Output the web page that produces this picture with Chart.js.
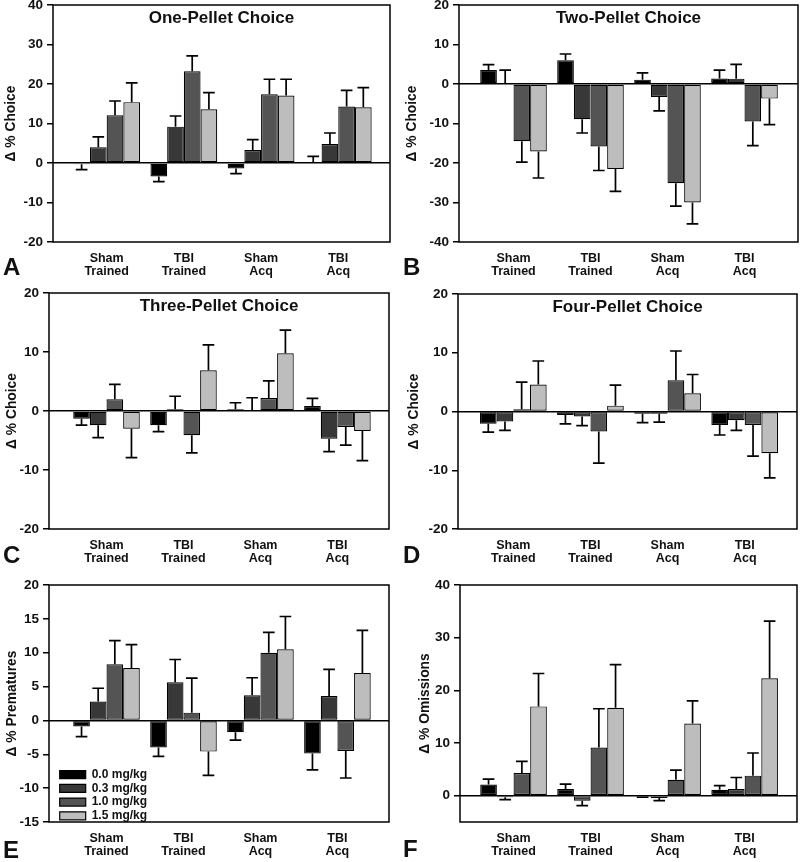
<!DOCTYPE html>
<html>
<head>
<meta charset="utf-8">
<script src="https://cdn.jsdelivr.net/npm/chart.js@4.4.0/dist/chart.umd.min.js"></script>
<style>
  body { margin: 0; background: #fff; }
  #wrap { position: relative; width: 800px; height: 862px; }
  #wrap canvas { position: absolute; }
</style>
</head>
<body>
<div id="wrap">
  <canvas id="panelA" width="400" height="287" style="left:0;top:0"></canvas>
  <canvas id="panelB" width="400" height="287" style="left:400px;top:0"></canvas>
  <canvas id="panelC" width="400" height="287" style="left:0;top:287px"></canvas>
  <canvas id="panelD" width="400" height="287" style="left:400px;top:287px"></canvas>
  <canvas id="panelE" width="400" height="288" style="left:0;top:574px"></canvas>
  <canvas id="panelF" width="400" height="288" style="left:400px;top:574px"></canvas>
</div>
<script>
// groups on the x axis, doses are the datasets
const groupLabels = [['Sham', 'Trained'], ['TBI', 'Trained'], ['Sham', 'Acq'], ['TBI', 'Acq']];
const doseLabels = ['0.0 mg/kg', '0.3 mg/kg', '1.0 mg/kg', '1.5 mg/kg'];
const doseColors = ['#000000', '#383838', '#545454', '#bdbdbd'];

// one row per dose, one value per group
const onePelletMean = [
  [-0.3, -3.4, -1.4, 0.1],
  [4.0, 9.2, 3.3, 4.8],
  [12.1, 23.2, 17.4, 14.3],
  [15.4, 13.6, 17.1, 14.1]
];
const onePelletErr = [
  [1.4, 1.3, 1.3, 1.6],
  [2.6, 2.7, 2.6, 2.8],
  [3.6, 3.9, 3.8, 4.1],
  [4.9, 4.2, 4.1, 5.0]
];
const twoPelletMean = [
  [3.55, 6.0, 1.1, 1.4],
  [0.2, -8.9, -3.3, 1.35],
  [-14.5, -15.8, -25.1, -9.5],
  [-17.1, -21.5, -30.0, -3.7]
];
const twoPelletErr = [
  [1.35, 1.6, 1.7, 2.1],
  [3.3, 3.5, 3.5, 3.6],
  [5.3, 6.1, 5.8, 6.1],
  [6.7, 5.7, 5.4, 6.6]
];
const threePelletMean = [
  [-1.3, -2.4, 0.3, 0.85],
  [-2.4, 0.3, 0.05, -4.7],
  [2.0, -4.1, 2.2, -2.7],
  [-3.0, 6.9, 9.8, -3.4]
];
const threePelletErr = [
  [1.1, 1.1, 1.1, 1.3],
  [2.1, 2.2, 2.2, 2.2],
  [2.5, 3.0, 2.9, 3.1],
  [4.9, 4.3, 3.9, 5.0]
];
const fourPelletMean = [
  [-2.1, -0.6, -0.4, -2.3],
  [-1.7, -0.85, -0.4, -1.5],
  [0.4, -3.4, 5.3, -2.3],
  [4.6, 1.0, 3.1, -7.1]
];
const fourPelletErr = [
  [1.4, 1.5, 1.5, 1.7],
  [1.5, 1.55, 1.4, 1.7],
  [4.6, 5.4, 5.0, 5.3],
  [4.0, 3.5, 3.2, 4.2]
];
const prematuresMean = [
  [-0.9, -4.0, -1.75, -4.9],
  [2.8, 5.65, 3.7, 3.6],
  [8.3, 1.15, 10.0, -4.5],
  [7.75, -4.6, 10.5, 7.0]
];
const prematuresErr = [
  [1.5, 1.3, 1.15, 2.4],
  [1.95, 3.35, 2.6, 3.95],
  [3.5, 5.1, 3.0, 4.0],
  [3.45, 3.5, 4.85, 6.3]
];
const omissionsMean = [
  [2.1, 1.25, -0.2, 1.1],
  [-0.3, -0.95, -0.45, 1.25],
  [4.3, 9.15, 3.0, 3.8],
  [16.95, 16.7, 13.7, 22.3]
];
const omissionsErr = [
  [1.05, 0.95, 0.1, 0.8],
  [0.45, 0.95, 0.5, 2.2],
  [2.2, 7.35, 1.85, 4.3],
  [6.25, 8.2, 4.3, 10.85]
];

// y tick labels
const ticksOne = [-20, -10, 0, 10, 20, 30, 40];
const ticksTwo = [-40, -30, -20, -10, 0, 10, 20];
const ticksThreeFour = [-20, -10, 0, 10, 20];
const ticksPrematures = [-15, -10, -5, 0, 5, 10, 15, 20];
const ticksOmissions = [0, 10, 20, 30, 40];

const family = "'Liberation Sans', Arial, Helvetica, sans-serif";
const ink = '#111';

// frame, error bars, title and panel letter
const panelDeco = {
  id: 'panelDeco',
  afterLayout(chart) {
    const lg = chart.legend;
    if (lg && lg.options.display) {
      const a = chart.chartArea;
      lg.left = a.left + 9;
      lg.right = lg.left + lg.width;
      lg.top = a.top;
      lg.bottom = a.bottom + 1.5;
    }
  },
  afterDatasetsDraw(chart) {
    const ctx = chart.ctx;
    const yScale = chart.scales.y;
    ctx.save();
    ctx.strokeStyle = '#000';
    ctx.lineWidth = 1.7;
    chart.data.datasets.forEach((ds, i) => {
      const meta = chart.getDatasetMeta(i);
      meta.data.forEach((bar, j) => {
        const v = ds.data[j].y;
        const e = ds.errors[j];
        const dir = v < 0 ? -1 : 1;
        const y0 = yScale.getPixelForValue(v);
        const y1 = yScale.getPixelForValue(v + dir * e);
        const half = bar.width * 0.35;
        ctx.beginPath();
        ctx.moveTo(bar.x, y0);
        ctx.lineTo(bar.x, y1);
        ctx.moveTo(bar.x - half, y1);
        ctx.lineTo(bar.x + half, y1);
        ctx.stroke();
      });
    });
    ctx.restore();
  },
  afterDraw(chart, args, opts) {
    const ctx = chart.ctx;
    const a = chart.chartArea;
    ctx.save();
    ctx.strokeStyle = '#000';
    ctx.lineWidth = 1.5;
    ctx.strokeRect(a.left, a.top, a.right - a.left, a.bottom - a.top);
    ctx.fillStyle = ink;
    if (opts.title) {
      ctx.font = 'bold 17px ' + family;
      ctx.textAlign = 'center';
      ctx.textBaseline = 'middle';
      ctx.fillText(opts.title, (a.left + a.right) / 2, a.top + 13);
    }
    ctx.font = 'bold 24px ' + family;
    ctx.textAlign = 'left';
    ctx.textBaseline = 'alphabetic';
    ctx.fillText(opts.letter, 3, opts.letterY);
    ctx.restore();
  }
};

function makePanel(id, p) {
  const canvas = document.getElementById(id);
  const datasets = doseLabels.map((label, i) => ({
    label: label,
    data: p.mean[i].map((v, j) => ({ x: j, y: v })),
    errors: p.err[i],
    backgroundColor: doseColors[i],
    borderColor: '#000',
    borderWidth: 1.2,
    borderSkipped: false,
    categoryPercentage: 0.865,
    barPercentage: 1.0
  }));
  new Chart(canvas.getContext('2d'), {
    type: 'bar',
    data: { datasets: datasets },
    options: {
      responsive: false,
      animation: false,
      layout: { padding: { left: 0, top: p.area.top, right: 400 - p.area.right, bottom: 0 } },
      plugins: {
        legend: {
          display: !!p.legend,
          position: 'chartArea',
          fullSize: false,
          align: 'end',
          labels: {
            boxWidth: 26,
            boxHeight: 8,
            padding: 1.7,
            color: ink,
            font: { family: family, size: 12, weight: 'bold' }
          }
        },
        tooltip: { enabled: false },
        panelDeco: { title: p.title, letter: p.letter, letterY: p.letterY }
      },
      scales: {
        x: {
          type: 'linear',
          min: p.xMin,
          max: p.xMax,
          offset: false,
          grid: { display: false, drawTicks: false },
          border: { display: false },
          afterBuildTicks: s => { s.ticks = groupLabels.map((g, i) => ({ value: i })); },
          afterFit: s => {
            s.height = canvas.height - p.area.bottom;
            s.paddingLeft = 0;
            s.paddingRight = 0;
          },
          ticks: {
            callback: v => groupLabels[v],
            autoSkip: false,
            maxRotation: 0,
            padding: 10,
            color: ink,
            font: { family: family, size: 12.5, weight: 'bold', lineHeight: 1.02 }
          }
        },
        y: {
          min: p.yMin,
          max: p.yMax,
          afterBuildTicks: s => { s.ticks = p.yTicks.map(v => ({ value: v })); },
          afterFit: s => {
            s.width = p.area.left;
            s.paddingTop = 0;
            s.paddingBottom = 0;
          },
          grid: {
            drawOnChartArea: true,
            color: c => (c.tick && c.tick.value === 0 ? '#000' : 'rgba(0,0,0,0)'),
            lineWidth: 1.5,
            tickColor: '#000',
            tickWidth: 1.5,
            tickLength: 6
          },
          border: { display: false },
          ticks: {
            padding: 4,
            color: ink,
            font: { family: family, size: 13.5, weight: 'bold' }
          },
          title: {
            display: true,
            text: p.yTitle,
            color: ink,
            padding: { top: p.titlePad, bottom: 0 },
            font: { family: family, size: 13.8, weight: 'bold' }
          }
        }
      }
    },
    plugins: [panelDeco]
  });
}

makePanel('panelA', {
  mean: onePelletMean, err: onePelletErr, title: 'One-Pellet Choice', yTitle: 'Δ % Choice',
  letter: 'A', letterY: 275, yMin: -20, yMax: 40, yTicks: ticksOne,
  xMin: -0.695, xMax: 3.67, titlePad: 2.5,
  area: { left: 53, right: 390, top: 5, bottom: 242 }
});
makePanel('panelB', {
  mean: twoPelletMean, err: twoPelletErr, title: 'Two-Pellet Choice', yTitle: 'Δ % Choice',
  letter: 'B', letterY: 275, yMin: -40, yMax: 20, yTicks: ticksTwo,
  xMin: -0.708, xMax: 3.695, titlePad: 3.5,
  area: { left: 59, right: 398, top: 5, bottom: 242 }
});
makePanel('panelC', {
  mean: threePelletMean, err: threePelletErr, title: 'Three-Pellet Choice', yTitle: 'Δ % Choice',
  letter: 'C', letterY: 276, yMin: -20, yMax: 20, yTicks: ticksThreeFour,
  xMin: -0.747, xMax: 3.67, titlePad: 3.5,
  area: { left: 49, right: 389, top: 6, bottom: 242 }
});
makePanel('panelD', {
  mean: fourPelletMean, err: fourPelletErr, title: 'Four-Pellet Choice', yTitle: 'Δ % Choice',
  letter: 'D', letterY: 276, yMin: -20, yMax: 20, yTicks: ticksThreeFour,
  xMin: -0.717, xMax: 3.678, titlePad: 5.5,
  area: { left: 58, right: 397, top: 7, bottom: 242 }
});
makePanel('panelE', {
  mean: prematuresMean, err: prematuresErr, title: '', yTitle: 'Δ % Prematures',
  letter: 'E', letterY: 284, yMin: -15, yMax: 20, yTicks: ticksPrematures,
  xMin: -0.747, xMax: 3.67, titlePad: 3.5, legend: true,
  area: { left: 49, right: 389, top: 11, bottom: 248 }
});
makePanel('panelF', {
  mean: omissionsMean, err: omissionsErr, title: '', yTitle: 'Δ % Omissions',
  letter: 'F', letterY: 283, yMin: -5, yMax: 40, yTicks: ticksOmissions,
  xMin: -0.695, xMax: 3.68, titlePad: 16.5,
  area: { left: 60, right: 397, top: 11, bottom: 248 }
});
</script>
</body>
</html>
